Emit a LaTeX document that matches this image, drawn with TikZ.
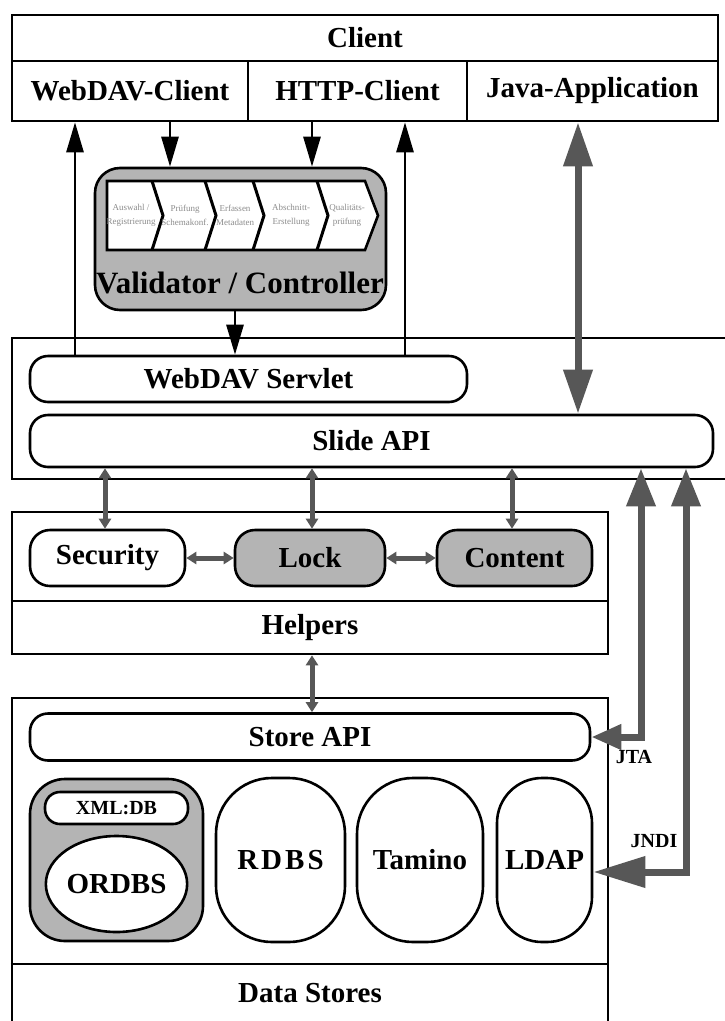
\documentclass[tikz,border=0pt]{standalone}
\usepackage{fontspec}
\setmainfont{Liberation Serif}
\usetikzlibrary{arrows.meta,decorations.pathmorphing,shapes.geometric}
\definecolor{fillgray}{HTML}{B4B4B4}
\definecolor{arrowgray}{HTML}{575757}
\definecolor{tinytext}{HTML}{8C8C8C}

\begin{document}
\begin{tikzpicture}[x=1pt,y=-1pt,
  lbl/.style={font=\fontsize{29}{31}\selectfont\bfseries},
  cell/.style={draw, line width=2.6pt, inner sep=0pt, lbl},
  plain/.style={inner sep=0pt, lbl},
  pill/.style={draw, line width=2.6pt, rounded corners=18pt, fill=white, inner sep=0pt, lbl},
  grayfill/.style={fill=fillgray},
  frame/.style={line width=2.6pt},
  blackarrow/.style={line width=2.8pt, -{Triangle[width=17pt,length=30pt]}},
  bigarrow/.style={line width=7pt, draw=arrowgray, line join=miter,
    {Triangle[width=28pt,length=44pt,fill=arrowgray]}-{Triangle[width=28pt,length=44pt,fill=arrowgray]}},
  smallarrow/.style={line width=5pt, draw=arrowgray,
    {Triangle[width=12pt,length=10pt,fill=arrowgray]}-{Triangle[width=12pt,length=10pt,fill=arrowgray]}},
  chevtext/.style={inner sep=0pt, font=\fontsize{9}{10}\selectfont, text=tinytext, align=center},
  small/.style={inner sep=0pt, font=\fontsize{20}{22}\selectfont\bfseries}
]
\path[use as bounding box] (0,0) rectangle (725,1021);
\clip (0,0) rectangle (725,1021);

% ---- client layer
\node[cell, minimum width=706pt, minimum height=46pt] (client) at (365,38) {Client};
\node[cell, minimum width=236pt, minimum height=60pt] (wdc) at (130,91) {WebDAV-Client};
\node[cell, minimum width=219pt, minimum height=60pt] (httpc) at (357.5,91) {HTTP-Client};
\node[cell, minimum width=251pt, minimum height=60pt] (japp) at (592.5,91) {Java-Application};

% ---- validator / controller
\node[draw, line width=2.6pt, grayfill, rounded corners=25pt, minimum width=291pt,
      minimum height=142pt] (val) at (240.5,239) {};
\fill[white] (107,181) -- (365,181) -- (378,215.5) -- (365,250) -- (107,250) -- cycle;
\draw[frame] (107,181) -- (365,181) -- (378,215.5) -- (365,250) -- (107,250) -- cycle;
\foreach \cx in {152,205,253,317}
  \draw[line width=3pt] (\cx,181) -- (\cx+11,215.5) -- (\cx,250);
\node[chevtext] (st1) at (131,215) {Auswahl /\\[4pt]Registrierung};
\node[chevtext] (st2) at (185,215) {Prüfung\\[4pt]Schemakonf.};
\node[chevtext] (st3) at (235,215) {Erfassen\\[4pt]Metadaten};
\node[chevtext] (st4) at (291,215) {Abschnitt-\\[4pt]Erstellung};
\node[chevtext] (st5) at (347,215) {Qualitäts-\\[4pt]prüfung};
\node[plain, font=\fontsize{31}{33}\selectfont\bfseries] (valtext) at (240,283) {Validator / Controller};

% ---- servlet layer (open to the right)
\draw[frame] (740,338) -- (12,338) -- (12,479) -- (740,479);
\node[pill, minimum width=437pt, minimum height=46pt] (servlet) at (248.5,379) {WebDAV Servlet};
\node[pill, minimum width=683pt, minimum height=52pt] (slide) at (371.5,441) {Slide API};

% ---- helpers layer
\node[cell, minimum width=596pt, minimum height=142pt] (helpbox) at (310,583) {};
\draw[frame] (helpbox.west |- 0,601) -- (helpbox.east |- 0,601);
\node[plain] (helpers) at (310,628) {Helpers};
\node[pill, rounded corners=20pt, minimum width=155pt, minimum height=56pt] (security) at (107.5,558) {Security};
\node[pill, rounded corners=20pt, grayfill, minimum width=150pt, minimum height=56pt] (lock) at (310,558) {Lock};
\node[pill, rounded corners=20pt, grayfill, minimum width=155pt, minimum height=56pt] (content) at (514.5,558) {Content};

% ---- data store layer
\node[cell, minimum width=596pt, minimum height=340pt] (storebox) at (310,868) {};
\draw[frame] (storebox.west |- 0,964) -- (storebox.east |- 0,964);
\node[plain] (datastores) at (310,993) {Data Stores};
\node[pill, minimum width=560pt, minimum height=47pt] (storeapi) at (310,737) {Store API};
\node[draw, line width=2.6pt, grayfill, rounded corners=35pt, minimum width=173pt,
      minimum height=162pt] (ordgrp) at (116.5,860) {};
\node[pill, rounded corners=15pt, minimum width=143pt, minimum height=32pt,
      font=\fontsize{20}{22}\selectfont\bfseries] (xmldb) at (116.5,808) {XML:DB};
\node[draw, line width=2.6pt, ellipse, fill=white, inner sep=0pt, lbl,
      minimum width=141pt, minimum height=96pt] (ordbs) at (116.5,884) {ORDBS};
\node[pill, rounded corners=56pt, minimum width=129pt, minimum height=164pt] (rdbs) at (280.5,860)
     {R\hspace{3pt}D\hspace{3pt}B\hspace{3pt}S};
\node[pill, rounded corners=56pt, minimum width=126pt, minimum height=164pt] (tamino) at (420,860) {Tamino};
\node[pill, rounded corners=45pt, minimum width=95pt, minimum height=164pt] (ldap) at (544.5,860) {LDAP};

% ---- black control-flow arrows
\coordinate (xa) at (75,0);
\coordinate (xb) at (170,0);
\coordinate (xc) at (312,0);
\coordinate (xd) at (405,0);
\coordinate (xe) at (235,0);
\draw[blackarrow] (servlet.north -| xa) -- (wdc.south -| xa);
\draw[blackarrow] (wdc.south -| xb) -- (val.north -| xb);
\draw[blackarrow] (httpc.south -| xc) -- (val.north -| xc);
\draw[blackarrow] (servlet.north -| xd) -- (httpc.south -| xd);
\draw[blackarrow] (val.south -| xe) -- (servlet.north -| xe);

% ---- gray API arrows
\coordinate (xj) at (578,0);
\coordinate (xt) at (641,0);
\coordinate (xn) at (686,0);
\draw[bigarrow] (japp.south -| xj) -- (slide.north -| xj);
\draw[bigarrow, {Triangle[width=28pt,length=38pt,fill=arrowgray]}-{Triangle[width=24pt,length=30pt,fill=arrowgray]}]
  (slide.south -| xt) |- (storeapi.east);
\draw[bigarrow, {Triangle[width=28pt,length=38pt,fill=arrowgray]}-{Triangle[width=30pt,length=52pt,fill=arrowgray]}]
  (slide.south -| xn) |- ([yshift=-12pt]ldap.east);
\node[small] (jta) at (634,757) {JTA};
\node[small] (jndi) at (654,841) {JNDI};

% ---- helper links
\coordinate (xs) at (105,0);
\coordinate (xl) at (312,0);
\coordinate (xk) at (512,0);
\draw[smallarrow] (slide.south -| xs) -- (security.north -| xs);
\draw[smallarrow] (slide.south -| xl) -- (lock.north -| xl);
\draw[smallarrow] (slide.south -| xk) -- (content.north -| xk);
\draw[smallarrow] (security.east) -- (lock.west);
\draw[smallarrow] (lock.east) -- (content.west);
\draw[smallarrow] (helpbox.south -| xl) -- (storeapi.north -| xl);
\end{tikzpicture}
\end{document}
